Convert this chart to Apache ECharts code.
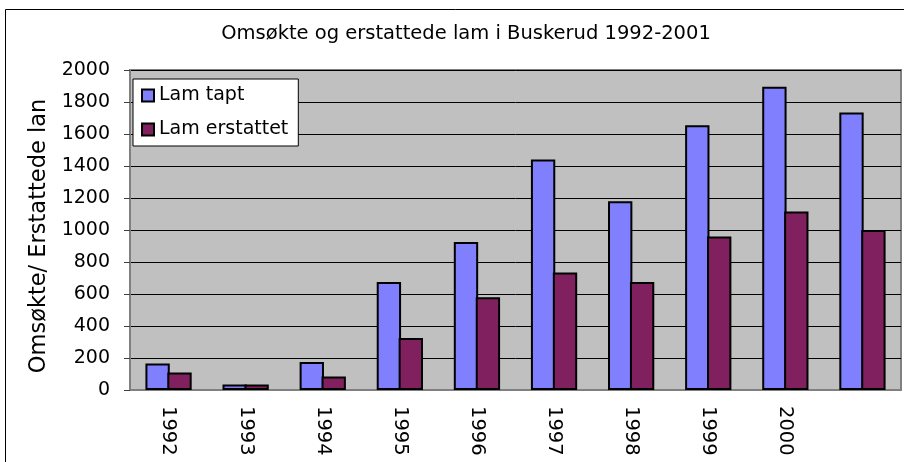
<!DOCTYPE html>
<html>
<head>
<meta charset="utf-8">
<script src="https://cdn.jsdelivr.net/npm/echarts@6/dist/echarts.min.js"></script>
<style>
  html, body { margin: 0; padding: 0; background: #fff; }
  #chart { width: 904px; height: 462px; }
</style>
</head>
<body>
<div id="chart"></div>
<script>
// år (siste kategori står uten etikett i originalen)
const years = ['1992', '1993', '1994', '1995', '1996', '1997', '1998', '1999', '2000', '']
const lamTapt = [165, 35, 175, 675, 925, 1440, 1180, 1655, 1895, 1735]
const lamErstattet = [110, 35, 85, 325, 580, 735, 675, 960, 1115, 1000]

const font = 'DejaVu Sans'

const option = {
  backgroundColor: '#fff',
  animation: false,
  title: {
    text: 'Omsøkte og erstattede lam i Buskerud 1992-2001',
    left: 461,
    top: 19,
    textAlign: 'center',
    textStyle: { fontFamily: font, fontSize: 19.5, fontWeight: 'normal', color: '#000' }
  },
  legend: {
    orient: 'vertical',
    left: 133,
    top: 79,
    padding: [7, 10, 7, 8],
    itemGap: 15,
    itemWidth: 12,
    itemHeight: 12,
    icon: 'rect',
    backgroundColor: '#fff',
    borderColor: '#000',
    borderWidth: 1,
    textStyle: { fontFamily: font, fontSize: 19, color: '#000' },
    data: ['Lam tapt', 'Lam erstattet']
  },
  graphic: [{
    type: 'rect',
    shape: { x: 5.5, y: 9.5, width: 1000, height: 1000 },
    style: { fill: 'none', stroke: '#000', lineWidth: 1 },
    z: -1
  }],
  grid: {
    left: 130,
    top: 70,
    right: 3,
    bottom: 72,
    show: true,
    backgroundColor: '#c0c0c0',
    borderColor: '#808080',
    borderWidth: 2
  },
  xAxis: {
    type: 'category',
    data: years,
    axisLine: { lineStyle: { color: '#808080', width: 2 } },
    axisTick: { length: 6, lineStyle: { color: '#404040' } },
    axisLabel: {
      rotate: -90,
      margin: 16,
      interval: 0,
      fontFamily: font,
      fontSize: 19.5,
      color: '#000'
    }
  },
  yAxis: {
    type: 'value',
    min: 0,
    max: 2000,
    interval: 200,
    name: 'Omsøkte/ Erstattede lan',
    nameLocation: 'middle',
    nameGap: 78,
    nameTextStyle: { fontFamily: font, fontSize: 22.5, color: '#000', padding: [0, 0, 0, -12] },
    axisLine: { show: true, lineStyle: { color: '#808080', width: 2 } },
    axisTick: { show: true, length: 6, lineStyle: { color: '#404040' } },
    axisLabel: {
      margin: 20,
      fontFamily: font,
      fontSize: 19,
      color: '#000',
      formatter: v => String(v)
    },
    splitLine: { lineStyle: { color: '#000', width: 1 } }
  },
  series: [
    {
      name: 'Lam tapt',
      type: 'bar',
      data: lamTapt,
      barGap: '-10%',
      barCategoryGap: '40%',
      itemStyle: { color: '#8080ff', borderColor: '#000', borderWidth: 2 }
    },
    {
      name: 'Lam erstattet',
      type: 'bar',
      data: lamErstattet,
      barGap: '-10%',
      barCategoryGap: '40%',
      itemStyle: { color: '#80205f', borderColor: '#000', borderWidth: 2 }
    }
  ]
}

const chart = echarts.init(document.getElementById('chart'), null, { renderer: 'canvas' })
chart.setOption(option)
</script>
</body>
</html>
